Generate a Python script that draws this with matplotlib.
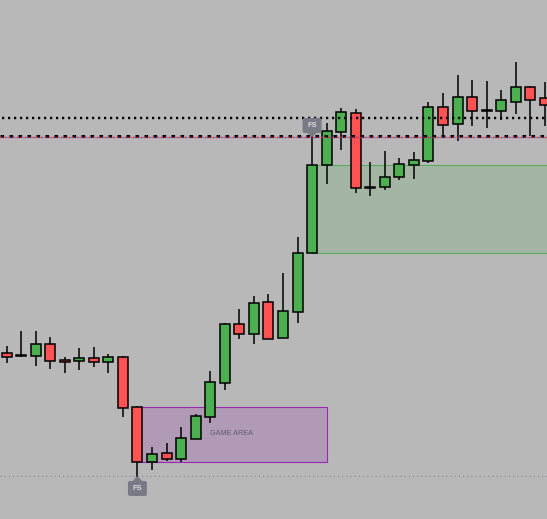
import matplotlib
matplotlib.use('Agg')
import matplotlib.pyplot as plt
import numpy as np
from matplotlib.patches import FancyBboxPatch, Polygon, Rectangle

plt.rcParams['lines.scale_dashes'] = False

# price scale is the vertical axis of the screenshot, so smaller means higher on the chart
body_top = [353.3, 355, 344.3, 344.3, 360.3, 358.3, 358.3, 357.3, 357.3, 407.3,
            454.3, 453.3, 438.3, 416.3, 382.3, 324.3, 324.3, 303.3, 302.3, 311.3,
            253.3, 165.3, 131.3, 112.3, 113.3, 186.5, 177.3, 164.3, 160.3, 107.3,
            107.3, 97.3, 97.3, 110, 100.3, 87.3, 87.3, 98.3]
body_bottom = [356.7, 355.6, 355.7, 360.7, 361.6, 360.7, 361.7, 361.7, 407.7, 461.7,
               461.7, 458.7, 458.7, 438.7, 416.7, 382.7, 333.7, 333.7, 338.7, 337.7,
               311.7, 253.3, 164.7, 131.7, 187.7, 187.6, 186.7, 176.7, 164.7, 160.7,
               124.7, 123.7, 110.7, 110.6, 110.7, 101.7, 99.7, 104.7]
wick_high = [346, 331, 331, 337, 357, 348, 347, 354, 356, 406,
             447, 443, 427, 414, 371, 323, 309, 296, 294, 273,
             237, 130, 123, 108, 109, 162, 151, 158, 152, 102,
             93, 75, 80, 81, 90, 62, 86, 82]
wick_low = [362.7, 356.7, 366, 369, 372.7, 370, 367, 372.7, 417, 477,
            469.7, 461, 461.7, 438.7, 422.7, 389.7, 338.7, 343.7, 338.7, 337.7,
            322.7, 253.3, 184, 150, 192.7, 196, 190, 180, 179, 162.7,
            136, 140.7, 126, 128, 120, 114, 136, 126]
is_up = [0, 0, 1, 0, 0, 1, 0, 1, 0, 0,
         1, 0, 1, 1, 1, 1, 0, 1, 0, 1,
         1, 1, 1, 1, 0, 0, 1, 1, 1, 1,
         0, 1, 0, 0, 1, 1, 0, 0]

level_upper = 118
level_lower = 136.5
level_floor = 476

# zones as (first bar, last bar position, top, bottom)
game_area = (9, 22, 407.3, 461.5)
green_zone = (21, 38, 165.3, 253.3)
fs_marks = [(9, 488.5, 'up'), (21, 125.5, 'down')]

BG = '#b8b8b8'
UP = '#4caf50'
DOWN = '#ff5252'
BAR_STEP = 14.55
X0 = 6.5
PX = 0.72

fig = plt.figure(figsize=(5.47, 5.19), dpi=100, facecolor=BG)
ax = fig.add_axes([0, 0, 1, 1], facecolor=BG)
ax.set_xlim(-X0 / BAR_STEP, (547 - X0) / BAR_STEP)
ax.set_ylim(519, 0)
ax.axis('off')

ax.add_patch(Rectangle((game_area[0], game_area[2]), game_area[1] - game_area[0],
                       game_area[3] - game_area[2], fc='#b09ab6', ec='#9c27b0', lw=0.8, zorder=1))
ax.add_patch(Rectangle((green_zone[0], green_zone[2]), green_zone[1] - green_zone[0],
                       green_zone[3] - green_zone[2], fc='#a4b5a3', ec='#4caf50', lw=0.7, zorder=1))
ax.text(14, 433.5, 'GAME AREA', fontsize=5.2, color='#5f5a6a', family='Liberation Sans',
        ha='left', va='center', zorder=2)

ax.axhline(level_floor, color='#787b86', lw=0.7, ls=(0, (0.8, 2.2)), zorder=1)

x = np.arange(len(body_top))
top = np.array(body_top)
bottom = np.array(body_bottom)
colors = [UP if u else DOWN for u in is_up]
ax.vlines(x, wick_high, wick_low, color='black', lw=1.1, zorder=3)
ax.bar(x, bottom - top, bottom=top, width=10 / BAR_STEP, color=colors,
       edgecolor='black', linewidth=1.1, zorder=4)

ax.axhline(level_upper, color='black', lw=2.4 * PX, ls=(4 * PX, (2.2 * PX, 3.8 * PX)), zorder=5)
ax.axhline(level_lower - 0.5, color='black', lw=3 * PX, ls=(0, (3.6 * PX, 5.4 * PX)), zorder=5)
ax.axhline(level_lower, color='#f0282c', lw=1.4 * PX, ls=(0, (1.8 * PX, 2.2 * PX)), zorder=6)
ax.axhline(level_lower, color='#4a5ce0', lw=1.4 * PX, ls=(2 * PX, (1 * PX, 3 * PX)), zorder=6)

# FS labels, bubble with a small pointer towards the candle
for bar, yc, direction in fs_marks:
    half_w = 9.5 / BAR_STEP
    half_h = 7.5
    ax.add_patch(FancyBboxPatch((bar - half_w, yc - half_h), 2 * half_w, 2 * half_h,
                                boxstyle='round,pad=0,rounding_size=0.14', mutation_aspect=BAR_STEP,
                                fc='#787b86', ec='none', zorder=7))
    tip = yc - half_h - 5 if direction == 'up' else yc + half_h + 4
    base = yc - half_h if direction == 'up' else yc + half_h
    ax.add_patch(Polygon([(bar - 0.33, base), (bar + 0.33, base), (bar, tip)],
                         fc='#787b86', ec='none', zorder=7))
    ax.text(bar, yc, 'FS', fontsize=5.4, fontweight='bold', color='#dddddd', family='Liberation Sans',
            ha='center', va='center', zorder=8)

fig.savefig('out.png', dpi=100, facecolor=BG)
